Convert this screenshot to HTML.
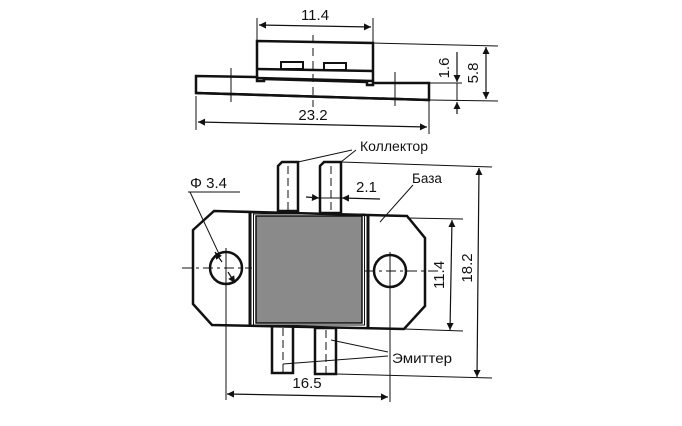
<!DOCTYPE html>
<html><head><meta charset="utf-8"><style>
html,body{margin:0;padding:0;background:#fff;width:682px;height:426px;overflow:hidden}
svg{display:block}
text{font-family:"Liberation Sans","DejaVu Sans",sans-serif;fill:#111}
</style></head><body>
<svg width="682" height="426" viewBox="0 0 682 426" xmlns="http://www.w3.org/2000/svg">
<defs>
<marker id="a" viewBox="0 0 10 10" refX="10" refY="5" markerWidth="9" markerHeight="7" orient="auto-start-reverse" markerUnits="userSpaceOnUse"><path d="M0,0 L10,5 L0,10 z" fill="#111"/></marker>
</defs>
<g stroke="#111" fill="none">
<!-- TOP VIEW -->
<polygon points="257,41 373,43 373,81 257,78" stroke-width="2.5" fill="#fff"/>
<line x1="257" y1="69" x2="373" y2="71" stroke-width="2.5"/>
<rect x="281" y="62" width="22" height="7" stroke-width="2"/>
<rect x="324" y="63" width="22" height="7" stroke-width="2"/>
<polygon points="196,76 257,77 257,81 264,81 264,79 367,82 367,85 373,85 373,83 429,83 429,100 196,93" stroke-width="2.5" fill="#fff"/>
<line x1="196" y1="93" x2="429" y2="100" stroke-width="2.5"/>
<line x1="231" y1="68" x2="231" y2="102" stroke-width="1"/>
<line x1="395" y1="72" x2="395" y2="106" stroke-width="1"/>
<line x1="313" y1="35" x2="313" y2="107" stroke-width="1" stroke-dasharray="8,5"/>
<line x1="257" y1="18" x2="257" y2="41" stroke-width="1"/>
<line x1="373" y1="18" x2="373" y2="43" stroke-width="1"/>
<line x1="259" y1="25" x2="371" y2="27" stroke-width="1.2" marker-start="url(#a)" marker-end="url(#a)"/>
<line x1="196" y1="96" x2="196" y2="130" stroke-width="1"/>
<line x1="429" y1="100" x2="429" y2="134" stroke-width="1"/>
<line x1="198" y1="122" x2="427" y2="127" stroke-width="1.2" marker-start="url(#a)" marker-end="url(#a)"/>
<line x1="373" y1="43" x2="498" y2="46" stroke-width="1"/>
<line x1="429" y1="83" x2="462" y2="83" stroke-width="1"/>
<line x1="429" y1="100" x2="498" y2="101" stroke-width="1"/>
<line x1="486" y1="47" x2="486" y2="99" stroke-width="1.2" marker-start="url(#a)" marker-end="url(#a)"/>
<line x1="457" y1="52" x2="457" y2="82" stroke-width="1.2" marker-end="url(#a)"/>
<line x1="457" y1="114" x2="457" y2="102" stroke-width="1.2" marker-end="url(#a)"/>
<line x1="457" y1="83" x2="457" y2="101" stroke-width="1"/>

<!-- FRONT VIEW -->
<!-- top leads -->
<polygon points="278,211 278,166 282,162 298,162 298,211" stroke-width="2.5" fill="#fff"/>
<polygon points="320,213 320,166 324,162 341,162 341,213" stroke-width="2.5" fill="#fff"/>
<line x1="288" y1="166" x2="288" y2="211" stroke-width="1" stroke-dasharray="8,4"/>
<line x1="331" y1="166" x2="331" y2="213" stroke-width="1" stroke-dasharray="8,4"/>
<!-- bottom leads -->
<rect x="272" y="326" width="21" height="47" stroke-width="2.5" fill="#fff"/>
<rect x="315" y="328" width="21" height="46" stroke-width="2.5" fill="#fff"/>
<line x1="283" y1="328" x2="283" y2="372" stroke-width="1" stroke-dasharray="8,4"/>
<line x1="326" y1="330" x2="326" y2="373" stroke-width="1" stroke-dasharray="8,4"/>
<!-- body -->
<polygon points="214,211 407,216 425,238 425,306 404,329 212,325 193,304 193,230" stroke-width="2.5" fill="#fff"/>
<rect x="256" y="216" width="106" height="107" fill="#8a8a8a" stroke="#111" stroke-width="1.5"/>
<rect x="253.5" y="214" width="111" height="111" stroke-width="1"/>
<line x1="250" y1="212" x2="250" y2="326" stroke-width="3"/>
<line x1="368" y1="214" x2="368" y2="328" stroke-width="3"/>
<!-- holes -->
<circle cx="226" cy="268" r="16" stroke-width="2.5" fill="#fff"/>
<circle cx="390" cy="271" r="16" stroke-width="2.5" fill="#fff"/>
<line x1="182" y1="268" x2="252" y2="268" stroke-width="1" stroke-dasharray="10,4,3,4"/>
<line x1="226" y1="248" x2="226" y2="400" stroke-width="1"/>
<line x1="365" y1="271" x2="438" y2="271" stroke-width="1" stroke-dasharray="10,4,3,4"/>
<line x1="390" y1="252" x2="390" y2="402" stroke-width="1"/>
<line x1="386" y1="271" x2="394" y2="271" stroke-width="1"/>
<!-- phi leader -->
<line x1="188" y1="192" x2="240" y2="192" stroke-width="1"/>
<line x1="190" y1="192" x2="220" y2="256" stroke-width="1"/>
<line x1="215" y1="252" x2="222" y2="262" stroke-width="1.2" marker-start="url(#a)"/>
<line x1="228" y1="272" x2="235" y2="283" stroke-width="1.2" marker-end="url(#a)"/>
<!-- 2.1 -->
<line x1="306" y1="197" x2="319" y2="198" stroke-width="1.2" marker-end="url(#a)"/>
<line x1="380" y1="199" x2="342" y2="198" stroke-width="1.2" marker-end="url(#a)"/>
<line x1="319" y1="198" x2="342" y2="198" stroke-width="1"/>
<!-- leaders -->
<line x1="298" y1="162" x2="352" y2="150" stroke-width="1"/>
<line x1="341" y1="162" x2="356" y2="150" stroke-width="1"/>
<line x1="380" y1="222" x2="413" y2="185" stroke-width="1"/>
<line x1="331" y1="340" x2="388" y2="352" stroke-width="1"/>
<line x1="283" y1="364" x2="388" y2="356" stroke-width="1"/>
<!-- 18.2 -->
<line x1="341" y1="162" x2="492" y2="167" stroke-width="1"/>
<line x1="336" y1="374" x2="492" y2="378" stroke-width="1"/>
<line x1="479" y1="168" x2="477" y2="377" stroke-width="1.2" marker-start="url(#a)" marker-end="url(#a)"/>
<!-- 11.4 -->
<line x1="407" y1="218" x2="463" y2="219" stroke-width="1"/>
<line x1="404" y1="329" x2="463" y2="331" stroke-width="1"/>
<line x1="452" y1="220" x2="450" y2="330" stroke-width="1.2" marker-start="url(#a)" marker-end="url(#a)"/>
<!-- 16.5 -->
<line x1="227" y1="394" x2="388" y2="397" stroke-width="1.2" marker-start="url(#a)" marker-end="url(#a)"/>
</g>
<g font-size="15">
<text x="315" y="20" text-anchor="middle">11.4</text>
<text x="313" y="120" text-anchor="middle">23.2</text>
<text transform="translate(449,68) rotate(-90)" text-anchor="middle">1.6</text>
<text transform="translate(478,73) rotate(-90)" text-anchor="middle">5.8</text>
<text x="190" y="188">Φ 3.4</text>
<text x="356" y="192">2.1</text>
<text transform="translate(444,275) rotate(-90)" text-anchor="middle">11.4</text>
<text transform="translate(472,268) rotate(-90)" text-anchor="middle">18.2</text>
<text x="307" y="388" text-anchor="middle">16.5</text>
</g>
<g font-size="13.5">
<text x="360" y="151" textLength="68" lengthAdjust="spacingAndGlyphs">Коллектор</text>
<text x="412" y="183">База</text>
<text x="392" y="363" textLength="60" lengthAdjust="spacingAndGlyphs">Эмиттер</text>
</g>
</svg>
</body></html>
